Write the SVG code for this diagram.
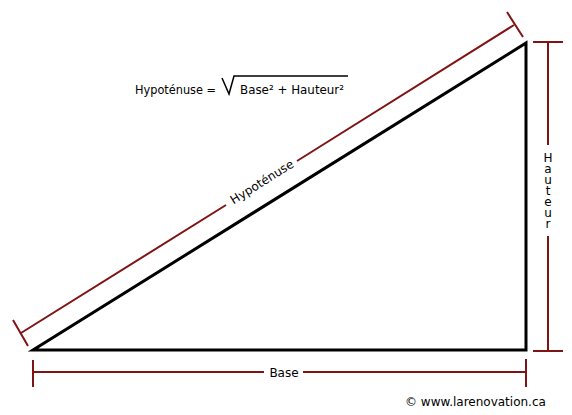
<svg xmlns="http://www.w3.org/2000/svg" width="572" height="415" viewBox="0 0 572 415">
<style>
.dim{stroke:#7f1414;stroke-width:2;fill:none}
.tri{stroke:#000;stroke-width:3;fill:none;stroke-linejoin:miter}
text{font-family:"DejaVu Sans","Liberation Sans",sans-serif;font-size:12px;fill:#000}
.vert{writing-mode:vertical-rl;text-orientation:upright;letter-spacing:-3px;font-size:12px}
</style>
<rect width="572" height="415" fill="#fff"/>
<g id="connectors">
<path class="dim" d="M21,333 L226,205 M297,161 L514,25"/>
<path class="dim" d="M13,320 L28,346 M507,12 L523,37"/>
<path class="dim" d="M548,42 L548,145 M548,236 L548,351"/>
<path class="dim" d="M533,42 L563,42 M533,351 L563,351"/>
<path class="dim" d="M33,372 L264,372 M303,372 L526,372"/>
<path class="dim" d="M33,360 L33,387 M526,359 L526,387"/>
</g>
<g id="triangle">
<path class="tri" d="M33,350 L526,350 L526,43 Z"/>
</g>
<g id="hyp-label">
<text x="262" y="186" text-anchor="middle" transform="rotate(-32 262 182)">Hypoténuse</text>
</g>
<g id="hauteur-label">
<text class="vert" x="548" y="151">Hauteur</text>
</g>
<g id="base-label">
<text x="284" y="377" text-anchor="middle">Base</text>
</g>
<g id="formula">
<text x="135" y="94" textLength="81" lengthAdjust="spacingAndGlyphs">Hypoténuse =</text>
<path d="M222,78 L229,94 L234,76 L348,76" stroke="#000" stroke-width="1.5" fill="none"/>
<text x="240" y="94" textLength="104" lengthAdjust="spacingAndGlyphs">Base² + Hauteur²</text>
</g>
<g id="credit">
<text x="405" y="406">© www.larenovation.ca</text>
</g>
</svg>
